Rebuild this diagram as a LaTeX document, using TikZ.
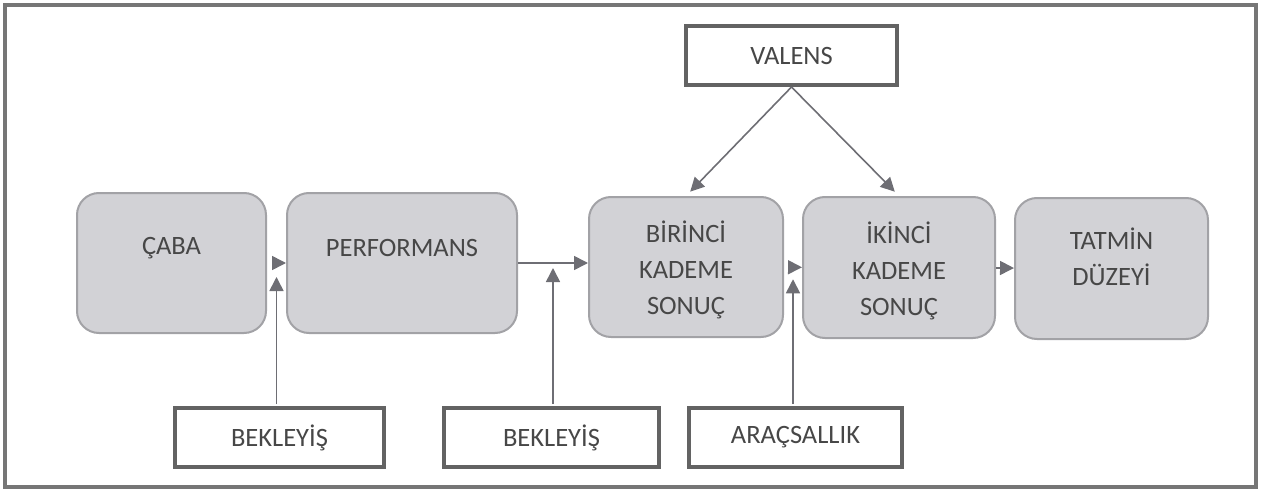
\documentclass[tikz,border=0pt]{standalone}
\usepackage{fontspec}
\setmainfont{Carlito}
\usetikzlibrary{arrows.meta,calc}
\definecolor{framegray}{HTML}{767676}
\definecolor{boxedge}{HTML}{A2A2A6}
\definecolor{boxfill}{HTML}{D2D2D6}
\definecolor{inkgray}{HTML}{474747}
\definecolor{arrowgray}{HTML}{6E6E74}
\newcommand{\liftline}[2]{\raisebox{#1}[\height][\depth]{#2}}

\begin{document}
\begin{tikzpicture}[x=0.5pt,y=-0.5pt,
    stage/.style={draw=boxedge,line width=1pt,fill=boxfill,rounded corners=11pt,
        align=center,text=inkgray,font=\fontsize{13.25pt}{18pt}\selectfont,inner sep=0pt},
    factor/.style={draw=inkgray!85,line width=2pt,fill=white,align=center,text=inkgray,
        font=\fontsize{13.25pt}{18pt}\selectfont,inner sep=0pt,
        minimum height=29.5pt},
    arr/.style={draw=arrowgray,line width=0.8pt,-{Triangle[length=7pt,width=7pt]}}]
    \useasboundingbox (0,0) rectangle (1263,492);
    \draw[framegray,line width=2pt] (5,5) rectangle (1256,487);

    \node[factor,minimum width=105.5pt] (valens) at (791.5,55.5) {VALENS};

    \node[stage,minimum width=94.5pt,minimum height=70pt] (caba) at (171.5,263) {\liftline{7.5pt}{ÇABA}};
    \node[stage,minimum width=115pt,minimum height=70pt] (perf) at (402,263) {\liftline{7.5pt}{PERFORMANS}};
    \node[stage,minimum width=97pt,minimum height=70pt] (bir) at (686,267) {\liftline{-1.5pt}{BİRİNCİ}\\\liftline{-1.5pt}{KADEME}\\\liftline{-1.5pt}{SONUÇ}};
    \node[stage,minimum width=96pt,minimum height=70.5pt] (ikinci) at (899,267.5) {\liftline{-1.5pt}{İKİNCİ}\\\liftline{-1.5pt}{KADEME}\\\liftline{-1.5pt}{SONUÇ}};
    \node[stage,minimum width=96.5pt,minimum height=70.5pt] (tatmin) at (1111.5,268.5) {\liftline{6pt}{TATMİN}\\\liftline{6pt}{DÜZEYİ}};

    \node[factor,minimum width=104.5pt] (bek1) at (279.5,437.5) {BEKLEYİŞ};
    \node[factor,minimum width=107.5pt] (bek2) at (551.5,437.5) {BEKLEYİŞ};
    \node[factor,minimum width=106.5pt] (arac) at (795.5,437.5) {ARAÇSALLIK};

    \coordinate (j1) at ($(caba.east)!0.5!(perf.west)$);
    \coordinate (j2) at ($(perf.east)!0.5!(perf.east -| bir.west)$);
    \coordinate (j3) at ($(bir.east)!0.5!(ikinci.west)$);

    \draw[arr,shorten <=3pt] (caba) -- (perf);
    \draw[arr] (perf.east) -- (perf.east -| bir.west);
    \draw[arr,shorten <=2pt] (bir) -- (ikinci);
    \draw[arr] (ikinci) -- (tatmin);
    \draw[arr,shorten >=3pt] (valens.south) -- (bir.north);
    \draw[arr,shorten >=3pt] (valens.south) -- (ikinci.north);
    \draw[arr,shorten <=1pt,shorten >=7pt] (bek1.north -| j1) -- (j1);
    \draw[arr,shorten <=1pt,shorten >=2.5pt] (bek2.north -| j2) -- (j2);
    \draw[arr,shorten <=1pt,shorten >=6pt] (arac.north -| j3) -- (j3);
\end{tikzpicture}
\end{document}
